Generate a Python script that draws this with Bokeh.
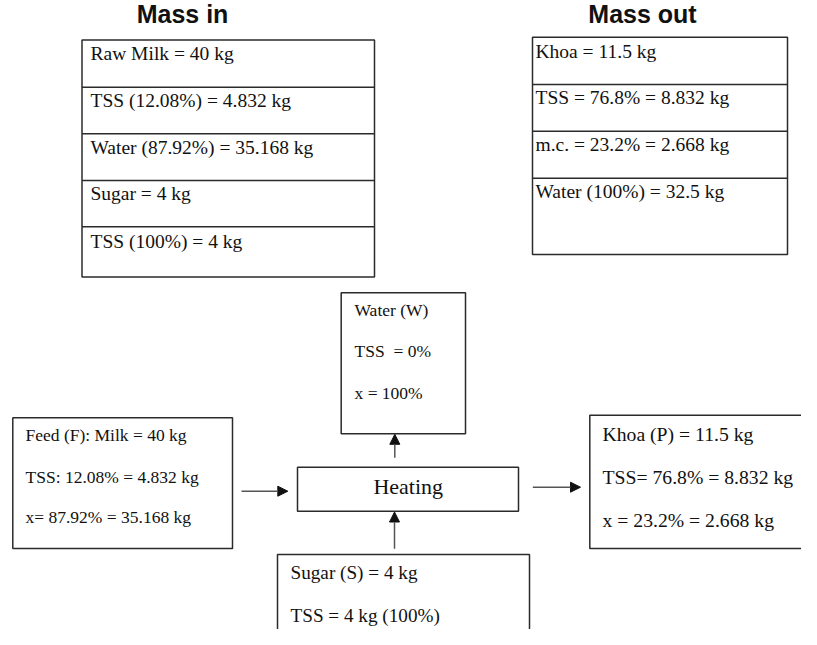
from bokeh.plotting import figure
from bokeh.models import Range1d, Arrow, NormalHead, ColumnDataSource
from bokeh.core.properties import value
from bokeh.embed import file_html
from bokeh.resources import INLINE

# ---- content ----
title_in = "Mass in"
title_out = "Mass out"
mass_in_rows = ["Raw Milk = 40 kg", "TSS (12.08%) = 4.832 kg",
                "Water (87.92%) = 35.168 kg", "Sugar = 4 kg", "TSS (100%) = 4 kg"]
mass_out_rows = ["Khoa = 11.5 kg", "TSS = 76.8% = 8.832 kg",
                 "m.c. = 23.2% = 2.668 kg", "Water (100%) = 32.5 kg"]
water_lines = ["Water (W)", "TSS\u00a0 = 0%", "x = 100%"]
feed_lines = ["Feed (F): Milk = 40 kg", "TSS: 12.08% = 4.832 kg", "x= 87.92% = 35.168 kg"]
khoa_lines = ["Khoa (P) = 11.5 kg", "TSS= 76.8% = 8.832 kg", "x = 23.2% = 2.668 kg"]
sugar_lines = ["Sugar (S) = 4 kg", "TSS = 4 kg (100%)"]
process_label = "Heating"

SERIF = value("Liberation Serif")
SANS = value("Liberation Sans")
LINE = "#2b2b2b"

p = figure(width=801, height=629, output_backend="svg", toolbar_location=None,
           x_range=Range1d(0, 801), y_range=Range1d(635, 6),
           min_border=0, min_border_left=0, min_border_right=0,
           min_border_top=0, min_border_bottom=0)
p.axis.visible = False
p.grid.visible = False
p.outline_line_color = None
p.background_fill_color = "white"
p.border_fill_color = "white"

def box(l, r, t, b, w=1.5):
    p.quad(left=[l], right=[r], top=[t], bottom=[b], fill_color=None,
           line_color=LINE, line_width=w)

def hline(x0, x1, y, w=1.5):
    p.segment(x0=[x0], x1=[x1], y0=[y], y1=[y], line_color=LINE, line_width=w)

def texts(xs, ys, labels, size, font=SERIF, align="left", style="normal"):
    # ys are the glyph baselines; bokeh's alphabetic
    # anchor sits a little below the glyph baseline, so lift it accordingly
    adj = [y - 0.38 * size for y in ys]
    src = ColumnDataSource(dict(x=xs, y=adj, t=labels))
    p.text(x="x", y="y", text="t", source=src, text_font=font,
           text_font_size=f"{size}px", text_align=align,
           text_baseline="alphabetic", text_color="#111111",
           text_font_style=style)

# titles
texts([182], [28.5], [title_in], 25, font=SANS, align="center", style="bold")
texts([642], [29], [title_out], 25, font=SANS, align="center", style="bold")

# Mass in table
in_edges = [45.5, 92.7, 139.3, 186, 232.3, 282.5]
box(81.5, 374, in_edges[0], in_edges[-1])
for y in in_edges[1:-1]:
    hline(81.5, 374, y)
texts([90] * len(mass_in_rows), [66.5, 113.3, 160, 206.7, 254], mass_in_rows, 19.5)

# Mass out table
out_edges = [42.7, 90, 136.7, 183.7, 260]
box(532, 787, out_edges[0], out_edges[-1])
for y in out_edges[1:-1]:
    hline(532, 787, y)
texts([535] * len(mass_out_rows), [64, 110, 157.3, 204], mass_out_rows, 19.5)

# Water (W) box
box(340.7, 465, 298.3, 439.3)
texts([354] * 3, [322.3, 363.3, 405], water_lines, 17.5)

# Heating box
box(297, 518, 472.7, 516.7)
texts([407.7], [500.7], [process_label], 22, align="center")

# Feed box
box(12.3, 232, 423.3, 554)
texts([25] * 3, [446.7, 489, 529.3], feed_lines, 17.5)

# Khoa box
box(589.3, 840, 420.7, 554)
texts([602] * 3, [446.7, 490, 533.3], khoa_lines, 19.7)

# Sugar box
box(277, 529, 560, 700)
texts([290] * 2, [585, 628.3], sugar_lines, 19.2)

# arrows
def arrow(x0, y0, x1, y1):
    p.add_layout(Arrow(end=NormalHead(size=10, fill_color="#111111", line_color="#111111"),
                       x_start=x0, y_start=y0, x_end=x1, y_end=y1,
                       line_color="#555555", line_width=1.5))

arrow(241, 496.7, 287.3, 496.7)
arrow(532.3, 492.7, 580, 492.7)
arrow(394.3, 463.3, 394.3, 439.8)
arrow(394, 554.3, 394, 517.5)

open("out.html", "w").write(file_html(p, INLINE))
